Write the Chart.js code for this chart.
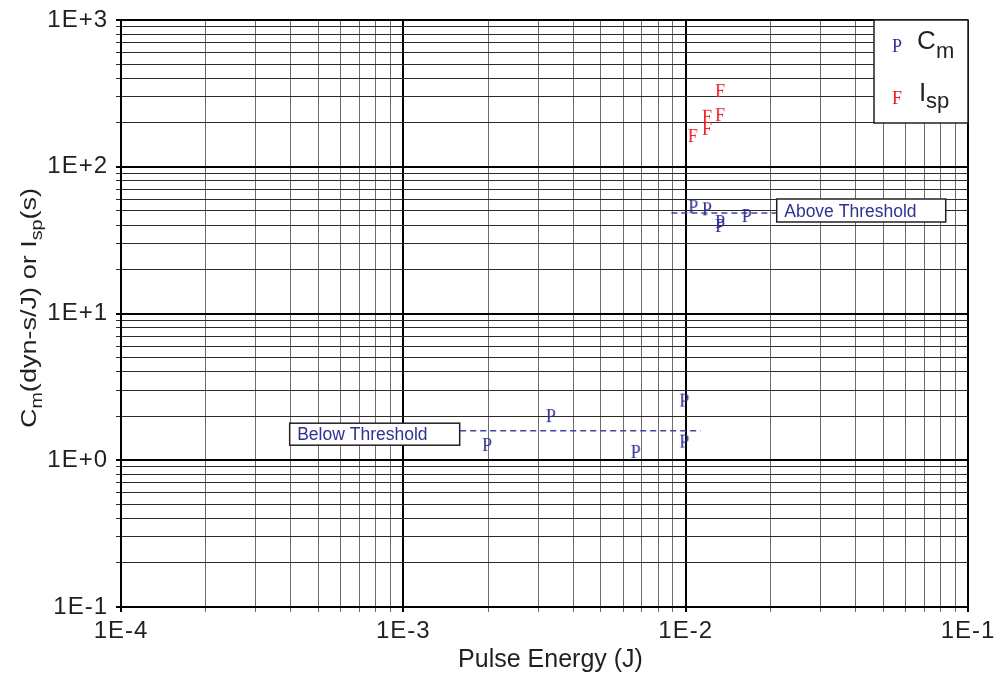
<!DOCTYPE html>
<html><head><meta charset="utf-8">
<style>html,body{margin:0;padding:0;background:#fff;} #wrap{width:994px;height:676px;position:relative;}</style>
<script src="https://cdn.jsdelivr.net/npm/chart.js@4.4.1/dist/chart.umd.min.js"></script>
</head><body><div id="wrap"><canvas id="c" width="994" height="676"></canvas></div>
<script>
// ---- data ----
const cmEnergy = [0.00198, 0.00333, 0.00665, 0.00989, 0.00989, 0.01064, 0.0119, 0.01324, 0.01324, 0.01645];
const cmValues = [1.27, 2.0, 1.14, 2.55, 1.34, 53.4, 51.3, 42.0, 39.5, 46.2];
const ispEnergy = [0.01059, 0.0119, 0.0119, 0.01324, 0.01324];
const ispValues = [162, 181, 219, 225, 328];
const belowEnergy = [0.00159, 0.0113];
const belowLevel = 1.59;
const aboveEnergy = [0.0089, 0.0211];
const aboveLevel = 48.4;
const xDecades = [1e-4, 1e-3, 1e-2, 1e-1];
const xTickLabels = ['1E-4', '1E-3', '1E-2', '1E-1'];
const yDecades = [1e-1, 1, 10, 100, 1000];
const yTickLabels = ['1E-1', '1E+0', '1E+1', '1E+2', '1E+3'];
const xTitle = 'Pulse Energy (J)';
const yTitleParts = [['C', false], ['m', true], ['(dyn-s/J) or I', false], ['sp', true], ['(s)', false]];
const legendItems = [{marker: 'P', main: 'C', sub: 'm'}, {marker: 'F', main: 'I', sub: 'sp'}];
const annotationTexts = ['Below Threshold', 'Above Threshold'];

const BLUE = '#2e3192', RED = '#ec1c24', DASH = '#3d47a2';
const SANS = '"Liberation Sans", Arial, Helvetica, sans-serif';
const SERIF = '"Liberation Serif", "Times New Roman", serif';

function buildLogTicks(decades) {
  const out = [];
  for (let i = 0; i < decades.length - 1; i++) {
    for (let k = 1; k <= 9; k++) out.push({value: decades[i] * k, major: k === 1});
  }
  out.push({value: decades[decades.length - 1], major: true});
  return out;
}
function labelFor(value, decades, labels) {
  const i = decades.findIndex(d => Math.abs(d - value) / d < 1e-6);
  return i >= 0 ? labels[i] : '';
}
function letterMarker(ch, color) {
  const c = document.createElement('canvas'); c.width = 22; c.height = 22;
  const g = c.getContext('2d');
  g.font = '18px ' + SERIF; g.fillStyle = color;
  g.textAlign = 'center'; g.textBaseline = 'alphabetic';
  g.fillText(ch, 11, 17);
  return c;
}
const pMarker = letterMarker('P', BLUE);
const fMarker = letterMarker('F', RED);

function drawParts(ctx, parts, x, y, mainSize, subSize, subShift) {
  let cx = x;
  for (const [t, sub] of parts) {
    ctx.font = (sub ? subSize : mainSize) + 'px ' + SANS;
    ctx.fillText(t, cx, sub ? y + subShift : y);
    cx += ctx.measureText(t).width;
  }
  return cx - x;
}
function measureParts(ctx, parts, mainSize, subSize) {
  let w = 0;
  for (const [t, sub] of parts) { ctx.font = (sub ? subSize : mainSize) + 'px ' + SANS; w += ctx.measureText(t).width; }
  return w;
}

const decorPlugin = {
  id: 'decor',
  beforeDraw(chart) { chart.ctx.letterSpacing = '1px'; },
  afterDraw(chart) {
    const ctx = chart.ctx, xs = chart.scales.x, ys = chart.scales.y, area = chart.chartArea;
    ctx.save();
    ctx.letterSpacing = '0px';
    ctx.fillStyle = '#231f20'; ctx.textBaseline = 'alphabetic'; ctx.textAlign = 'left';
    // x title
    ctx.font = '25px ' + SANS;
    const xw = ctx.measureText(xTitle).width;
    ctx.fillText(xTitle, (area.left + area.right) / 2 + 6 - xw / 2, 667);
    // y title (rotated, with subscripts, wide letterforms as in the original)
    ctx.save();
    ctx.translate(36, 308);
    ctx.rotate(-Math.PI / 2);
    const stretch = 1.23;
    ctx.scale(stretch, 1);
    const yw = measureParts(ctx, yTitleParts, 22, 16);
    drawParts(ctx, yTitleParts, -yw / 2, 0, 22, 16, 6);
    ctx.restore();

    // annotation boxes
    ctx.font = '17.5px ' + SANS;
    const drawBox = (text, left, top, w, h) => {
      ctx.fillStyle = '#fff'; ctx.fillRect(left, top, w, h);
      ctx.strokeStyle = '#231f20'; ctx.lineWidth = 1.5; ctx.strokeRect(left, top, w, h);
      ctx.fillStyle = BLUE; ctx.fillText(text, left + 7.5, top + h / 2 + 6.2);
    };
    const by = ys.getPixelForValue(belowLevel);
    const bx = xs.getPixelForValue(belowEnergy[0]);
    drawBox(annotationTexts[0], bx - 170.5, by - 7.5, 170, 22);
    const ay = ys.getPixelForValue(aboveLevel);
    const ax = xs.getPixelForValue(aboveEnergy[1]);
    drawBox(annotationTexts[1], ax - 0.5, ay - 14, 169, 23);

    // legend
    const lx = 874, ly = area.top, lw = area.right - 874, lh = 103;
    ctx.fillStyle = '#fff'; ctx.fillRect(lx, ly, lw, lh);
    ctx.strokeStyle = '#231f20'; ctx.lineWidth = 1.5; ctx.strokeRect(lx, ly, lw, lh);
    const rows = [{my: 46, tx: 917, ty: 48.5, sx: 936, sy: 58.3, img: pMarker},
                  {my: 98, tx: 919, ty: 100.5, sx: 926, sy: 107.5, img: fMarker}];
    legendItems.forEach((it, i) => {
      const r = rows[i];
      ctx.drawImage(r.img, 897 - 11, r.my - 11);
      ctx.fillStyle = '#231f20';
      ctx.font = '26px ' + SANS; ctx.fillText(it.main, r.tx, r.ty);
      ctx.font = '22px ' + SANS; ctx.fillText(it.sub, r.sx, r.sy);
    });
    ctx.restore();
  }
};

const lineDs = (xsArr, level) => ({
  type: 'line', data: xsArr.map(v => ({x: v, y: level})), showLine: true,
  borderColor: DASH, borderWidth: 1.5, borderDash: [6, 4], pointRadius: 0, fill: false
});

new Chart(document.getElementById('c'), {
  type: 'scatter',
  data: {
    datasets: [
      lineDs(belowEnergy, belowLevel),
      lineDs(aboveEnergy, aboveLevel),
      {label: 'Cm', data: cmEnergy.map((e, i) => ({x: e, y: cmValues[i]})), pointStyle: pMarker, pointRadius: 8},
      {label: 'Isp', data: ispEnergy.map((e, i) => ({x: e, y: ispValues[i]})), pointStyle: fMarker, pointRadius: 8}
    ]
  },
  options: {
    responsive: false, animation: false, devicePixelRatio: 1,
    layout: {padding: {top: 20, right: 26, left: 0, bottom: 0}},
    plugins: {legend: {display: false}, tooltip: {enabled: false}},
    scales: {
      x: {
        type: 'logarithmic', min: 1e-4, max: 1e-1,
        afterBuildTicks: s => { s.ticks = buildLogTicks(xDecades); },
        afterFit: s => { s.height = 69; s.paddingLeft = 0; s.paddingRight = 0; },
        ticks: {autoSkip: false, maxRotation: 0, padding: 5, color: '#231f20',
                font: {family: SANS, size: 24},
                callback: v => labelFor(v, xDecades, xTickLabels)},
        grid: {color: c => c.tick && c.tick.major ? '#000' : '#6e6e6e',
               lineWidth: c => c.tick && c.tick.major ? 2 : 1, tickLength: 5},
        border: {display: true, color: '#000', width: 2}
      },
      y: {
        type: 'logarithmic', min: 0.1, max: 1000,
        afterBuildTicks: s => { s.ticks = buildLogTicks(yDecades); },
        afterFit: s => { s.width = 121; s.paddingTop = 0; s.paddingBottom = 0; },
        ticks: {autoSkip: false, padding: 8, color: '#231f20',
                font: {family: SANS, size: 24},
                callback: v => labelFor(v, yDecades, yTickLabels)},
        grid: {color: c => c.tick && c.tick.major ? '#000' : '#2a2a2a',
               lineWidth: c => c.tick && c.tick.major ? 2 : 1, tickLength: 5},
        border: {display: true, color: '#000', width: 2}
      }
    }
  },
  plugins: [decorPlugin]
});
</script></body></html>
